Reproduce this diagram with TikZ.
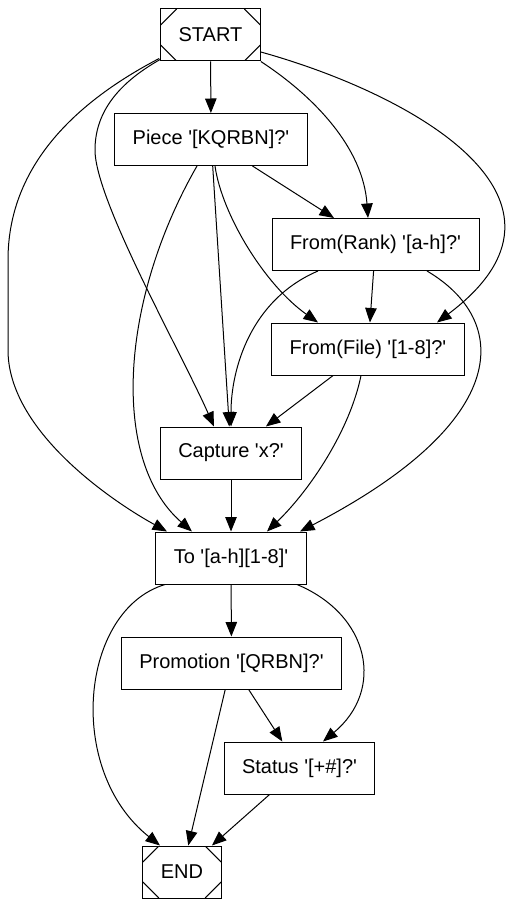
\documentclass[tikz,border=0pt]{standalone}
\usepackage{fontspec}
\newfontfamily\lab{Liberation Sans}
\usetikzlibrary{arrows.meta, calc}

\tikzset{
  box/.style={draw, rectangle, inner xsep=18pt, minimum height=52pt,
    font=\lab\fontsize{20}{24}\selectfont},
  msq/.style={box, path picture={
    \draw ([xshift=16pt]path picture bounding box.north west) -- ([yshift=-16pt]path picture bounding box.north west);
    \draw ([xshift=-16pt]path picture bounding box.north east) -- ([yshift=-16pt]path picture bounding box.north east);
    \draw ([xshift=16pt]path picture bounding box.south west) -- ([yshift=16pt]path picture bounding box.south west);
    \draw ([xshift=-16pt]path picture bounding box.south east) -- ([yshift=16pt]path picture bounding box.south east);
  }},
}

\begin{document}
\begin{tikzpicture}[x=1pt, y=-1pt, line width=1pt, >={Triangle[length=14.5pt,width=11.5pt]}]
  \useasboundingbox (0,0) rectangle (511,909);

  \node[msq] (start)    at (210.5,35)  {START};
  \node[box] (piece)    at (211,139.5) {Piece '[KQRBN]?'};
  \node[box] (fromrank) at (375.5,244.5) {From(Rank) '[a-h]?'};
  \node[box] (fromfile) at (368,349)   {From(File) '[1-8]?'};
  \node[box] (capture)  at (231,453)   {Capture 'x?'};
  \node[box] (target)   at (231,558)   {To '[a-h][1-8]'};
  \node[box] (promo)    at (231.5,663) {Promotion '[QRBN]?'};
  \node[box] (status)   at (299.5,768) {Status '[+\#]?'};
  \node[msq] (finish)   at (182,872)   {END};

  \path[->]
    (start) edge (piece)
    (piece) edge (fromrank)
    (piece) edge (capture)
    (fromrank) edge (fromfile)
    (fromfile) edge (capture)
    (capture) edge (target)
    (target) edge (promo)
    (promo) edge (status)
    (promo) edge (finish)
    (status) edge (finish);

  % the long way round
  \draw[->] (start.south east) .. controls (315,97) and (363,148) .. ([xshift=-7.5pt]fromrank.north);
  \draw[->] ($(start.east)+(0,17)$) .. controls (415,95) and (600,200) .. ([xshift=69pt]fromfile.north);
  \draw[->] ($(start.south west)+(0,-2)$) .. controls (115,85) and (95,115) .. (95,150)
    .. controls (95,200) and (180,350) .. ([xshift=-17pt]capture.north);
  \draw[->] ($(start.south west)+(-1,-3)$) .. controls (70,105) and (8,170) .. (8,260) -- (8,350)
    .. controls (8,430) and (110,500) .. ([xshift=-64pt]target.north);
  \draw[->] ([xshift=4pt]piece.south) .. controls (222,215) and (265,285) .. ([xshift=-50pt]fromfile.north);
  \draw[->] ([xshift=-14pt]piece.south) .. controls (120,300) and (110,460) .. ([xshift=-39pt]target.north);
  \draw[->] ([xshift=-57.5pt]fromrank.south) .. controls (250,300) and (231,370) .. (capture.north);
  \draw[->] ([xshift=51.5pt]fromrank.south) .. controls (510,320) and (515,420) .. ([xshift=69pt]target.north);
  \draw[->] ([xshift=-7pt]fromfile.south) .. controls (350,430) and (310,490) .. ([xshift=36pt]target.north);
  \draw[->] ([xshift=-66pt]target.south) .. controls (80,610) and (65,770) .. ([xshift=-22pt]finish.north);
  \draw[->] ([xshift=66pt]target.south) .. controls (370,615) and (385,690) .. ([xshift=23.5pt]status.north);
\end{tikzpicture}
\end{document}
